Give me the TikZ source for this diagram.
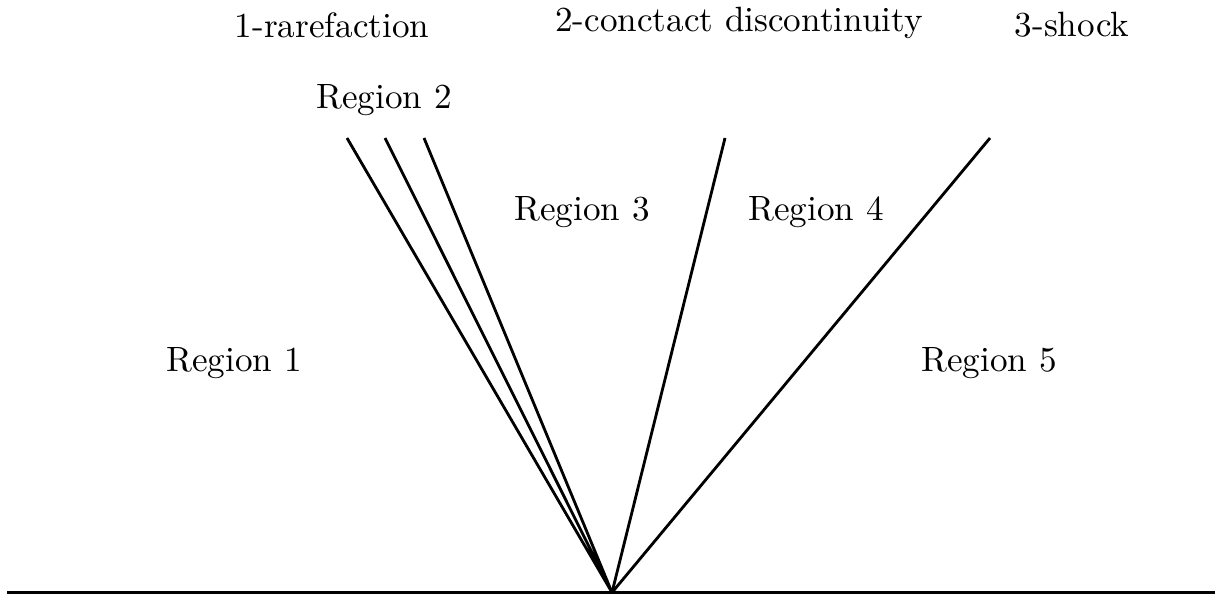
\documentclass[tikz,border=0pt]{standalone}
\usepackage{tikz}
\usepackage{amsmath}

\begin{document}
\begin{tikzpicture}[wave/.style={draw,line width=0.8pt}]
    \useasboundingbox (0,0) rectangle (12.15,5.94);
    \path
        (0.07,0.015) coordinate (L)
        (12.15,0.015) coordinate (R)
        (6.12,0.015) coordinate (O)
        (3.47,4.56) coordinate (r1)
        (3.85,4.56) coordinate (r2)
        (4.24,4.56) coordinate (r3)
        (7.25,4.56) coordinate (cd)
        (9.90,4.56) coordinate (sh);
    \draw[wave] (L) -- (R);
    \draw[wave] (O) -- (r1) (O) -- (r2) (O) -- (r3); % fan
    \draw[wave] (O) -- (cd);
    \draw[wave] (O) -- (sh);
    \path
        (3.32,5.69) node (rar) {1-rarefaction}
        (7.39,5.71) node (con) {2-conctact discontinuity}
        (10.72,5.69) node (sho) {3-shock}
        (3.84,4.94) node (reg2) {Region 2}
        (5.82,3.82) node (reg3) {Region 3}
        (8.16,3.82) node (reg4) {Region 4}
        (2.34,2.31) node (reg1) {Region 1}
        (9.89,2.31) node (reg5) {Region 5};
\end{tikzpicture}
\end{document}
